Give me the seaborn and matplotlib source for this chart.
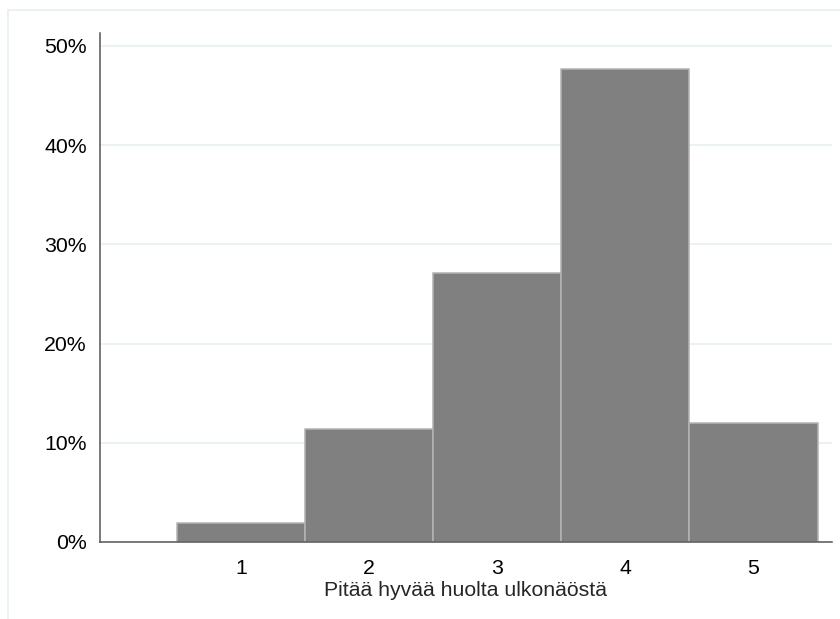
import matplotlib
matplotlib.use("Agg")
import matplotlib.pyplot as plt
import seaborn as sns
from matplotlib.patches import Rectangle

# percent of respondents per answer
answers = [1, 2, 3, 4, 5]
percent = [1.9, 11.4, 27.1, 47.7, 12.0]
yticks = [0, 10, 20, 30, 40, 50]
ytick_labels = ["0%", "10%", "20%", "30%", "40%", "50%"]
xlabel = "Pitää hyvää huolta ulkonäöstä"

sns.set_style("white")
plt.rcParams["font.family"] = ["Liberation Sans", "DejaVu Sans"]

fig = plt.figure(figsize=(8.4, 6.19), dpi=100)
ax = fig.add_axes([0.119, 0.1244, 0.871, 0.8223])

# light outer frame like the Stata graph region
fig.patches.append(Rectangle((8 / 840, -0.1), 1.2, 1 - 10 / 619 + 0.1,
                             transform=fig.transFigure, fill=False,
                             edgecolor="#e6eff0", linewidth=1.2))

for t in yticks:
    ax.axhline(t, color="#e8f0f1", linewidth=1.2, zorder=0)

sns.histplot(x=answers, weights=percent, discrete=True, ax=ax,
             color="#808080", alpha=1, edgecolor="#b3b3b3", linewidth=1.1,
             zorder=2)

ax.set_xlim(-0.1, 5.61)
ax.set_ylim(0, 51.3)
ax.set_xticks(answers)
ax.set_yticks(yticks)
ax.set_yticklabels(ytick_labels)
ax.set_xlabel(xlabel, fontsize=15.3, labelpad=2)
ax.set_ylabel("")

for s in ["top", "right"]:
    ax.spines[s].set_visible(False)
for s in ["left", "bottom"]:
    ax.spines[s].set_color("#555555")
    ax.spines[s].set_linewidth(1.1)
    ax.spines[s].set_zorder(3)

ax.tick_params(axis="both", labelsize=15.3, colors="#555555",
               labelcolor="black", length=6.5, width=1.1, direction="out")
ax.tick_params(axis="y", pad=3)
ax.tick_params(axis="x", pad=6)

fig.savefig("out.png", dpi=100)
